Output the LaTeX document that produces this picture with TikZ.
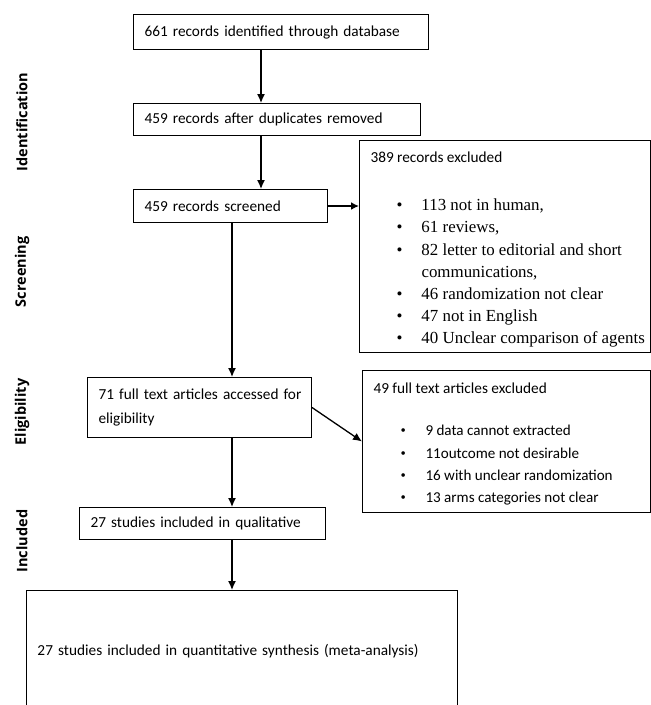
\documentclass[tikz,border=0pt]{standalone}
\usepackage{fontspec}
\setmainfont{Carlito}
\newfontfamily\timesfont{Liberation Serif}
\newfontfamily\stagefont{Open Sans}
\usepackage{tikz}
\usetikzlibrary{arrows.meta}

\begin{document}
\begin{tikzpicture}[x=1pt, y=-1pt,
    box/.style={draw, line width=1pt, anchor=north west, inner xsep=11pt, inner ysep=0pt,
                align=left, font=\fontsize{15.3}{23.9}\selectfont},
    arr/.style={-{Latex[length=9pt,width=8pt]}, line width=1.3pt},
    stage/.style={rotate=90, font=\stagefont\bfseries\fontsize{14.5}{16}\selectfont}]
    \useasboundingbox (0,0) rectangle (651,705);

    \node[box, text width=273pt, minimum height=35pt] (ident) at (133,14) {661 records identified through database};
    \node[box, text width=265pt, minimum height=32pt] (dupl) at (133,103) {459 records after duplicates removed};
    \node[box, text width=172pt, minimum height=33pt] (screen) at (133,189) {459 records screened};
    \node[box, text width=206pt, inner xsep=9pt, minimum height=60pt] (elig) at (87,377) {\hspace{2pt}71 full text articles accessed for\\\hspace{2pt}eligibility};
    \node[box, text width=224pt, minimum height=32pt] (qual) at (79,507) {27 studies included in qualitative};
    \node[box, text width=409pt, minimum height=122pt] (quant) at (26,590) {27 studies included in quantitative synthesis (meta-analysis)};

    \node[box, minimum height=212pt] (excla) at (359,140) {\parbox[c][212pt][t]{269pt}{\vspace*{11.5pt}389 records excluded\par\vspace{31.5pt}
        {\timesfont\fontsize{16.9}{22.2}\selectfont
        \begin{tabular}{@{\hspace{26pt}}p{25pt}@{}l@{}}
            \textbullet & 113 not in human,\\
            \textbullet & 61 reviews,\\
            \textbullet & 82 letter to editorial and short\\
                        & communications,\\
            \textbullet & 46 randomization not clear\\
            \textbullet & 47 not in English\\
            \textbullet & 40 Unclear comparison of agents
        \end{tabular}\par}}};
    \node[box, minimum height=142pt] (exclb) at (362,370) {\parbox[c][142pt][t]{266pt}{\vspace*{12.5pt}49 full text articles excluded\par\vspace{25.4pt}
        {\fontsize{15.1}{22.3}\selectfont
        \begin{tabular}{@{\hspace{27pt}}p{25pt}@{}l@{}}
            {\timesfont\textbullet} & 9 data cannot extracted\\
            {\timesfont\textbullet} & 11outcome not desirable\\
            {\timesfont\textbullet} & 16 with unclear randomization\\
            {\timesfont\textbullet} & 13 arms categories not clear
        \end{tabular}\par}}};

    \foreach \y/\t [count=\k] in {122/Identification, 272/Screening, 412/Eligibility, 541/Included} {
        \node[stage] (stage\k) at (22,\y) {\t};
    }

    \coordinate (colA) at (261,0);
    \coordinate (colB) at (232,0);
    \foreach \a/\b/\c in {ident/dupl/colA, dupl/screen/colA, screen/elig/colB, elig/qual/colB, qual/quant/colB} {
        \draw[arr] (\c |- \a.south) -- (\c |- \b.north);
    }
    \draw[arr, line width=2pt, -{Latex[length=8pt,width=8pt]}] (screen.east) -- (screen.east -| excla.west);
    \draw[arr] (elig.east) -- (exclb.west);
\end{tikzpicture}
\end{document}
